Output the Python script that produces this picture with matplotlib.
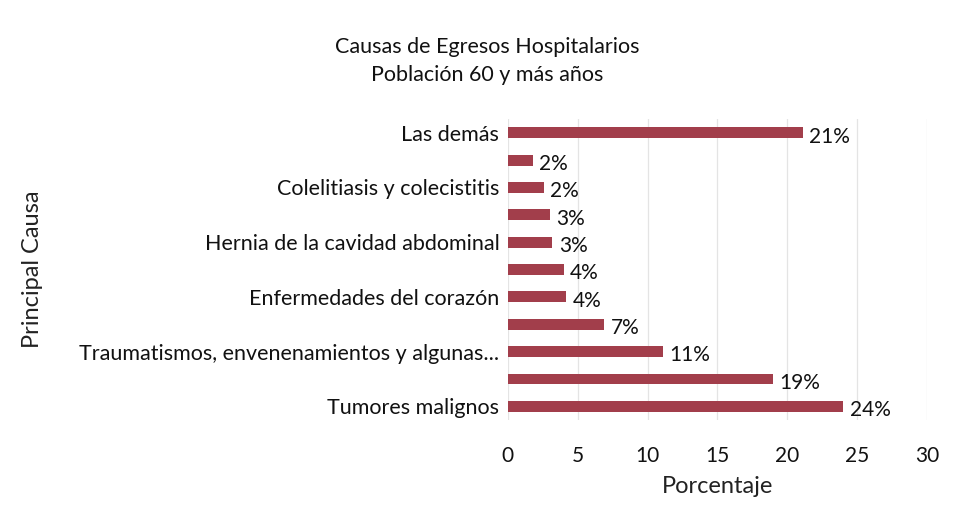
import matplotlib
matplotlib.use("Agg")
import matplotlib.pyplot as plt

# categories bottom -> top (only every other one has a visible label in the original)
causas = ["Tumores malignos", "",
          "Traumatismos, envenenamientos y algunas...", "",
          "Enfermedades del corazón", "",
          "Hernia de la cavidad abdominal", "",
          "Colelitiasis y colecistitis", "",
          "Las demás"]
valores = [24.0, 19.0, 11.1, 6.9, 4.2, 4.0, 3.2, 3.0, 2.6, 1.8, 21.1]
etiquetas = ["24%", "19%", "11%", "7%", "4%", "4%", "3%", "3%", "2%", "2%", "21%"]

plt.rcParams['font.family'] = ['Lato', 'DejaVu Sans']

fig = plt.figure(figsize=(9.56, 5.27), dpi=100)
ax = fig.add_axes([0.531, 0.203, 0.439, 0.571])

pos = list(range(len(valores)))
ax.barh(pos, valores, height=0.4, color='#A23E4B', zorder=3)
for p, v, t in zip(pos, valores, etiquetas):
    ax.text(v + 0.45, p - 0.14, t, va='center', ha='left', fontsize=15,
            color='#111111')

ax.set_xlim(0, 30)
ax.set_ylim(-0.5, len(valores) - 0.5)
ax.set_xticks([0, 5, 10, 15, 20, 25, 30])
ax.set_yticks(pos)
ax.set_yticklabels(causas, fontsize=15.5, color='#111111')
ax.tick_params(axis='x', labelsize=15, colors='#111111', length=0, pad=19)
ax.tick_params(axis='y', length=0, pad=6)
ax.grid(axis='x', color='#e4e4e4', linewidth=0.9, zorder=0)
for s in ax.spines.values():
    s.set_visible(False)

ax.set_xlabel("Porcentaje", fontsize=17, color='#222222', labelpad=7)
fig.text(0.034, 0.49, "Principal Causa", rotation=90, ha='center', va='center',
         fontsize=17, color='#222222')
fig.text(0.51, 0.91, "Causas de Egresos Hospitalarios", ha='center', va='center',
         fontsize=15.5, color='#111111')
fig.text(0.51, 0.857, "Población 60 y más años", ha='center', va='center',
         fontsize=15.5, color='#111111')

fig.savefig("out.png", dpi=100)
